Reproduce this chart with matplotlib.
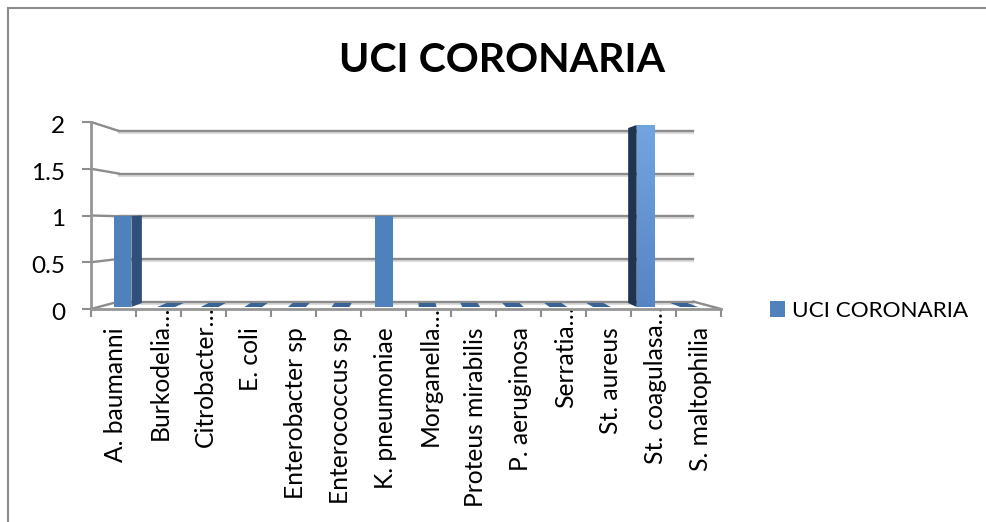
import numpy as np
import matplotlib
matplotlib.use('Agg')
import matplotlib.pyplot as plt
from matplotlib.lines import Line2D
from matplotlib.patches import ConnectionPatch, Polygon
from matplotlib.transforms import ScaledTranslation

plt.rcParams['font.family'] = ['Lato', 'DejaVu Sans']

categories = ['A. baumanni', 'Burkodelia…', 'Citrobacter…', 'E. coli', 'Enterobacter sp',
              'Enterococcus sp', 'K. pneumoniae', 'Morganella…', 'Proteus mirabilis',
              'P. aeruginosa', 'Serratia…', 'St. aureus', 'St. coagulasa…', 'S. maltophilia']
values = [1, 0, 0, 0, 0, 0, 1, 0, 0, 0, 0, 0, 2, 0]
y_ticks = [0, 0.5, 1, 1.5, 2]
y_labels = ['0', '0.5', '1', '1.5', '2']
title = 'UCI CORONARIA'

W, H = 987, 522
GRID = '#8c8c8c'
BLUE = '#4f81bd'
BAR_W = 0.41


def px_axes(fig, x0, x1, y_bottom, y_top):
    # position given in picture pixels, y counted from the top
    ax = fig.add_axes([x0 / W, 1 - y_bottom / H, (x1 - x0) / W, (y_bottom - y_top) / H])
    ax.set_xlim(0, len(categories))
    ax.set_ylim(0, 2)
    ax.patch.set_alpha(0)
    return ax


fig = plt.figure(figsize=(W / 100, H / 100), dpi=100)

# outer chart border (only top and left show)
fig.add_artist(Line2D([8 / W, 8 / W], [0, 1 - 8 / H], color='#8c8c8c', lw=1.5))
fig.add_artist(Line2D([8 / W, 1], [1 - 8 / H, 1 - 8 / H], color='#8c8c8c', lw=1.5))

# back wall, bar front plane, bar back plane, front axis
ax_back = px_axes(fig, 119, 693, 301.5, 131)
ax_bar = px_axes(fig, 100.7, 711, 307, 125)
ax_bar_back = px_axes(fig, 112.3, 699.7, 303, 128)
ax_front = px_axes(fig, 91, 721, 309, 122)

ax_back.axis('off')
ax_bar_back.axis('off')
ax_bar.axis('off')

# gridlines with their soft shadow
shadow = ax_back.transData + ScaledTranslation(0, -1.5 / 72, fig.dpi_scale_trans)
for v in y_ticks:
    ax_back.plot([0, len(categories)], [v, v], color='#dcdcdc', lw=1.5, clip_on=False, zorder=1, transform=shadow)
    ax_back.plot([0, len(categories)], [v, v], color=GRID, lw=1.7, clip_on=False, zorder=2)
    ax_back.add_artist(ConnectionPatch((0, v), (0, v), coordsA=ax_front.transData, coordsB=ax_back.transData,
                                       color=GRID, lw=1.7, clip_on=False))
ax_back.add_artist(ConnectionPatch((len(categories), 0), (len(categories), 0), coordsA=ax_front.transData,
                                   coordsB=ax_back.transData, color=GRID, lw=1.7, clip_on=False))


def to_bar(x, y):
    # back plane point expressed in the front plane's data coordinates
    return ax_bar.transData.inverted().transform(ax_bar_back.transData.transform((x, y)))


x_pos = np.arange(len(categories)) + 0.5

for i, (x, v) in enumerate(zip(x_pos, values)):
    left, right = x - BAR_W / 2, x + BAR_W / 2
    if v == 0:
        pts = [(left, 0), (right, 0), to_bar(right, 0), to_bar(left, 0)]
        ax_bar.add_patch(Polygon(pts, closed=True, fc='#3a6496', ec='none', clip_on=False, zorder=3))
        continue
    # the visible side face depends on which side of the centre the bar stands
    if x < 6:
        pts = [(right, 0), (right, v), to_bar(right, v), to_bar(right, 0)]
        side = '#2f5078'
    elif x > 8:
        pts = [(left, 0), (left, v), to_bar(left, v), to_bar(left, 0)]
        side = '#1f344f'
    else:
        pts = None
    if pts is not None:
        ax_bar.add_patch(Polygon(pts, closed=True, fc=side, ec='none', clip_on=False, zorder=3))
    if v == 2:
        # the tall bar is lit with a gradient
        grad = np.linspace(0, 1, 64).reshape(-1, 1)
        cmap = matplotlib.colors.LinearSegmentedColormap.from_list('lit', ['#5585c3', '#72a5e0'])
        ax_bar.imshow(grad, extent=(left, right, 0, v), origin='lower', cmap=cmap, aspect='auto', zorder=4)
    else:
        ax_bar.bar(x, v, width=BAR_W, color=BLUE, zorder=4)
ax_bar.set_xlim(0, len(categories))
ax_bar.set_ylim(0, 2)

# front axis
for s in ['top', 'right']:
    ax_front.spines[s].set_visible(False)
for s in ['left', 'bottom']:
    ax_front.spines[s].set_color('#969696')
    ax_front.spines[s].set_linewidth(2)
ax_front.set_yticks(y_ticks)
ax_front.set_yticklabels(y_labels, fontsize=17.5)
ax_front.tick_params(axis='y', length=6.5, width=1.5, color=GRID, pad=12)
ax_front.set_xticks(np.arange(len(categories) + 1), minor=True)
ax_front.set_xticks(x_pos)
ax_front.set_xticklabels(categories, rotation=90, fontsize=17.7)
ax_front.tick_params(axis='x', which='major', length=0, pad=13)
ax_front.tick_params(axis='x', which='minor', length=6, width=1.5, color=GRID)

# y labels sit a little under their ticks
y_shift = ScaledTranslation(0, -2.5 / 100, fig.dpi_scale_trans)
for lab in ax_front.get_yticklabels():
    lab.set_transform(lab.get_transform() + y_shift)

# truncated names run up past the others, their dots reach the ticks
for lab, name in zip(ax_front.get_xticklabels(), categories):
    up = 21 if name.endswith('…') else 0
    lab.set_transform(lab.get_transform() + ScaledTranslation(2 / 100, up / 100, fig.dpi_scale_trans))

fig.text(502.5 / W, 1 - 61 / H, title, fontsize=29.5, fontweight='bold', ha='center', va='center')

handle = plt.Rectangle((0, 0), 1, 1, fc=BLUE, ec='none')
fig.legend([handle], [title], loc='center left', bbox_to_anchor=(770 / W, 1 - 311 / H), frameon=False,
           fontsize=16.2, handlelength=0.67, handleheight=0.67, handletextpad=0.3, borderpad=0, borderaxespad=0)

fig.savefig('out.png', dpi=100)
